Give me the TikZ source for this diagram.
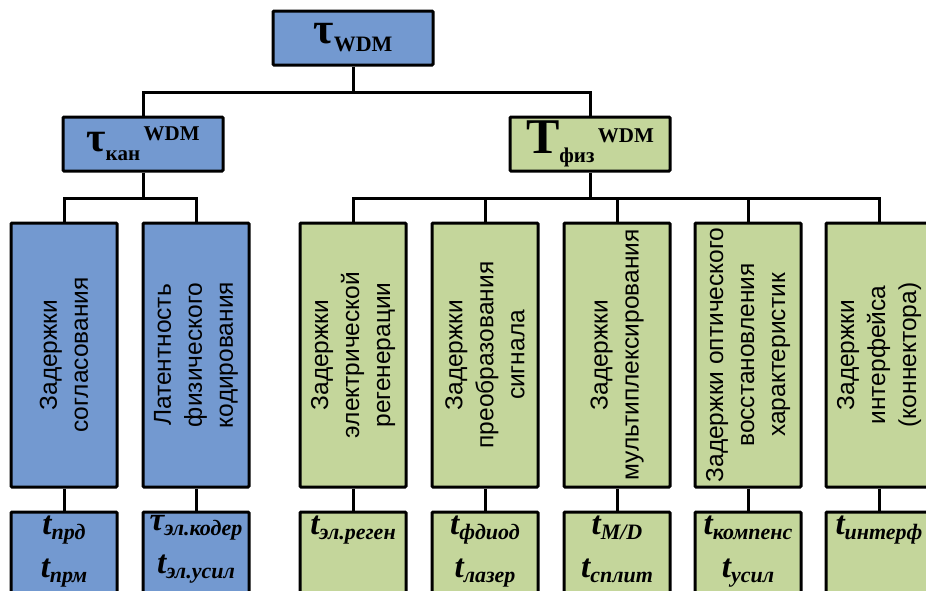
\documentclass[tikz,border=0pt]{standalone}
\usepackage{fontspec}
\setmainfont{Liberation Serif}
\setsansfont{Liberation Sans}
\definecolor{boxblue}{RGB}{115,153,208}
\definecolor{boxgreen}{RGB}{196,214,155}
\newcommand{\tsb}[2]{{\fontsize{33}{33}\selectfont #1}{\fontsize{22}{22}\selectfont\raisebox{-5pt}{#2}}}
\newcommand{\hdr}[4]{{\fontsize{#1}{#1}\selectfont #2}{\fontsize{21}{21}\selectfont\raisebox{-9pt}{#3}\,\raisebox{11pt}{#4}}}
\begin{document}
\begin{tikzpicture}[x=1pt,y=-1pt,
  box/.style={draw=black, line width=3pt, rounded corners=1pt, inner sep=0pt},
  bluebox/.style={box, fill=boxblue},
  greenbox/.style={box, fill=boxgreen},
  hdrbox/.style={minimum width=160pt, minimum height=54pt, font=\bfseries},
  midbox/.style={minimum width=106pt, minimum height=264pt},
  botbox/.style={minimum width=106pt, minimum height=88pt},
  vtext/.style={rotate=90, font=\sffamily\fontsize{24.5}{31}\selectfont, align=center},
  btext/.style={anchor=north, font=\bfseries\itshape\fontsize{33}{43}\selectfont, align=center, inner sep=0pt},
  conn/.style={line width=3pt}]
\useasboundingbox (0,0) rectangle (926,590);
\clip (0,0) rectangle (926,590);

% header boxes
\node[bluebox, hdrbox] (top) at (353,38) {{\fontsize{44}{44}\selectfont τ}{\fontsize{22}{22}\selectfont\raisebox{-8pt}{WDM}}};
\node[bluebox, hdrbox] (kan) at (143,144) {\hdr{42}{τ}{кан}{WDM}};
\node[greenbox, hdrbox] (fiz) at (590,144) {\hdr{50}{T}{физ}{WDM}};

% middle boxes
\node[bluebox, midbox] (m1) at (64,355) {};
\node[bluebox, midbox] (m2) at (196,355) {};
\node[greenbox, midbox] (m3) at (353,355) {};
\node[greenbox, midbox] (m4) at (485,355) {};
\node[greenbox, midbox] (m5) at (617,355) {};
\node[greenbox, midbox] (m6) at (748,355) {};
\node[greenbox, midbox] (m7) at (879,355) {};

\node[vtext] (v1) at (m1) {Задержки\\согласования};
\node[vtext] (v2) at (m2) {Латентность\\физического\\кодирования};
\node[vtext] (v3) at (m3) {Задержки\\электрической\\регенерации};
\node[vtext] (v4) at (m4) {Задержки\\преобразования\\сигнала};
\node[vtext] (v5) at (m5) {Задержки\\мультиплексирования};
\node[vtext] (v6) at (m6) {Задержки оптического\\восстановления\\характеристик};
\node[vtext] (v7) at (m7) {Задержки\\интерфейса\\(коннектора)};

% bottom boxes
\node[bluebox, botbox] (b1) at (64,556) {};
\node[bluebox, botbox] (b2) at (196,556) {};
\node[greenbox, botbox] (b3) at (353,556) {};
\node[greenbox, botbox] (b4) at (485,556) {};
\node[greenbox, botbox] (b5) at (617,556) {};
\node[greenbox, botbox] (b6) at (748,556) {};
\node[greenbox, botbox] (b7) at (879,556) {};

\node[btext] (t1) at ([yshift=-5pt]b1.north) {\tsb{t}{прд}\\\tsb{t}{прм}};
\node[btext] (t2) at ([yshift=-5pt]b2.north) {\tsb{τ}{эл.кодер}\\\tsb{t}{эл.усил}};
\node[btext] (t3) at ([yshift=-5pt]b3.north) {\tsb{t}{эл.реген}};
\node[btext] (t4) at ([yshift=-5pt]b4.north) {\tsb{t}{фдиод}\\\tsb{t}{лазер}};
\node[btext] (t5) at ([yshift=-5pt]b5.north) {\tsb{t}{M/D}\\\tsb{t}{сплит}};
\node[btext] (t6) at ([yshift=-5pt]b6.north) {\tsb{t}{компенс}\\\tsb{t}{усил}};
\node[btext] (t7) at ([yshift=-5pt]b7.north) {\tsb{t}{интерф}};

% connectors
\coordinate (j1) at (353,92);
\coordinate (j2) at (143,198);
\coordinate (j3) at (590,198);
\draw[conn] (top.south) -- (j1);
\draw[conn] (kan.north) |- (j1) -| (fiz.north);
\draw[conn] (kan.south) -- (j2);
\draw[conn] (m1.north) |- (j2) -| (m2.north);
\draw[conn] (fiz.south) -- (j3);
\draw[conn] (m3.north) |- (j3) -| (m7.north);
\draw[conn] (m4.north) -- (m4.north |- j3);
\draw[conn] (m5.north) -- (m5.north |- j3);
\draw[conn] (m6.north) -- (m6.north |- j3);
\foreach \i in {1,...,7} {\draw[conn] (m\i.south) -- (b\i.north);}
\end{tikzpicture}
\end{document}
